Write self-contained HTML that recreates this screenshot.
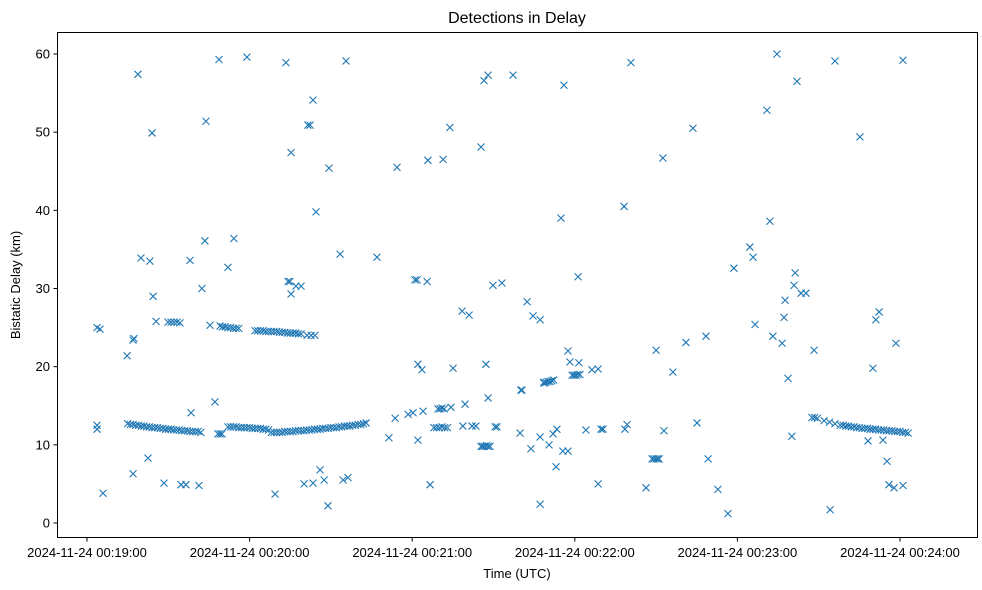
<!DOCTYPE html>
<html><head><meta charset="utf-8"><title>Detections in Delay</title>
<style>
html,body{margin:0;padding:0;background:#fff;}
svg{display:block;font-family:"Liberation Sans","DejaVu Sans",sans-serif;}
</style></head>
<body>
<svg id="chart" width="982" height="590" viewBox="0 0 982 590">
  <rect x="0" y="0" width="982" height="590" fill="#fff"/>
  <text x="517" y="23" text-anchor="middle" font-size="16">Detections in Delay</text>
  <g id="marks"></g>
  <g id="xticks"></g>
  <g id="yticks"></g>
  <rect x="57.5" y="32.5" width="920" height="505" fill="none" stroke="#000" stroke-width="1"/>
  <text x="517" y="578" text-anchor="middle" font-size="13">Time (UTC)</text>
  <text transform="translate(20,285) rotate(-90)" text-anchor="middle" font-size="13">Bistatic Delay (km)</text>
</svg>
<script>
// seconds after 2024-11-24 00:19:00
const scatterTimes = [3.7,3.7,3.7,4.8,5.9,14.8,17.0,17.3,17.0,18.8,19.9,22.5,23.2,24.0,24.4,25.5,28.4,34.7,36.5,38.0,38.4,41.3,42.4,43.5,43.9,45.4,47.2,48.7,52.0,54.2,59.0,69.4,73.4,74.2,74.9,75.3,75.3,77.1,79.0,80.1,81.5,82.3,83.4,84.5,83.4,86.0,87.5,88.9,89.3,93.4,94.5,95.6,96.3,107.0,111.4,113.7,114.4,118.5,120.3,121.0,121.8,122.1,123.6,122.1,124.0,125.5,125.8,126.6,131.4,133.9,134.3,135.1,138.4,139.5,141.0,138.7,142.1,143.5,145.4,146.5,148.0,147.2,148.0,149.8,150.6,151.3,153.1,157.2,159.8,160.1,160.5,162.4,163.8,164.6,167.2,167.2,167.2,168.6,170.5,172.0,173.1,173.4,174.9,175.6,177.5,176.0,177.5,178.2,181.2,181.5,184.1,186.3,188.6,188.6,189.7,190.4,198.2,198.5,199.3,200.7,206.3,210.0,212.5,212.9,216.2,221.0,223.6,225.1,228.4,229.2,232.8,236.5,238.7,244.6,245.8,246.5,250.9,252.0,253.1,254.6,256.5,257.2,257.6,258.7,260.1,260.9,261.3,262.0,263.5,265.3,268.3,274.2,276.0,285.2,288.2,290.0,291.1,292.3,293.7,295.2,295.9,297.8,298.5,301.1,301.1];
const scatterDelays = [12.5,12.0,25.0,24.8,3.8,21.4,23.4,23.6,6.3,57.4,33.9,8.3,33.5,49.9,29.0,25.8,5.1,4.9,4.9,33.6,14.1,4.8,30.0,36.1,51.4,25.3,15.5,59.3,32.7,36.4,59.6,3.7,58.9,30.9,30.9,47.4,29.3,30.3,30.3,5.0,50.9,50.9,54.1,39.8,5.1,6.8,5.5,2.2,45.4,34.4,5.5,59.1,5.8,34.0,10.9,13.4,45.5,13.9,14.1,31.1,31.1,20.3,19.6,10.6,14.3,30.9,46.4,4.9,46.5,50.6,14.8,19.8,27.1,15.2,26.6,12.4,12.4,12.4,48.1,56.6,57.3,20.3,16.0,30.4,12.3,12.3,30.7,57.3,11.5,17.0,17.0,28.3,9.5,26.5,26.0,2.4,11.0,17.9,10.0,11.4,7.2,12.0,39.0,9.2,9.2,56.0,22.0,20.6,31.5,20.5,11.9,19.6,19.7,5.0,12.0,12.0,40.5,12.0,12.6,58.9,4.5,22.1,46.7,11.8,19.3,23.1,50.5,12.8,23.9,8.2,4.3,1.2,32.6,35.3,34.0,25.4,52.8,38.6,23.9,60.0,23.0,26.3,28.5,18.5,11.1,30.4,32.0,56.5,29.4,29.4,22.1,1.7,59.1,49.4,10.5,19.8,26.0,27.0,10.6,7.9,4.9,4.5,23.0,4.8,59.2];
const bandTimes = [15,16,17,18,19,20,21,22,23,24,25,26,27,28,29,30,31,32,33,34,35,36,37,38,39,40,41,42,
  29.9,31.0,32.1,33.2,34.3,
  48.3,49.1,49.8,
  49.1,50,51,52,53,54,55,56,
  52,53,54,55,56,57,58,59,60,61,62,63,64,65,66,67,
  62,63,64,65,66,67,68,69,70,71,72,73,74,75,76,77,78,79,81.2,82.7,84.1,
  68,69,70,71,72,73,74,75,76,77,78,79,80,81,82,83,84,85,86,87,88,89,90,91,92,93,94,95,96,97,98,99,100,101,102,103,
  128.0,129.0,130.0,131.0,132.0,133.0,129.5,130.3,131.0,131.8,
  145.4,146.0,146.7,147.4,148.0,148.7,
  168.6,169.4,170.1,170.8,171.5,172.2,
  179.0,179.7,180.4,181.1,181.9,
  208.5,209.2,210.0,210.7,211.1,
  267.5,268.5,269.5,272,274,276,278,279,280,281,282,283,284,285,286,287,288,289,290,291,292,293,294,295,296,297,298,299,300,301,302,303];
const bandDelays = [12.7,12.6,12.6,12.5,12.5,12.4,12.4,12.3,12.3,12.2,12.2,12.2,12.1,12.1,12.0,12.0,12.0,11.9,11.9,11.9,11.8,11.8,11.8,11.7,11.7,11.7,11.7,11.6,
  25.7,25.7,25.7,25.7,25.6,
  11.4,11.4,11.4,
  25.2,25.1,25.1,25.0,25.0,24.9,24.9,24.9,
  12.3,12.3,12.3,12.3,12.2,12.2,12.2,12.2,12.2,12.1,12.1,12.1,12.1,12.0,12.0,11.9,
  24.6,24.6,24.6,24.6,24.5,24.5,24.5,24.5,24.5,24.4,24.4,24.4,24.3,24.3,24.3,24.3,24.2,24.2,24.0,24.0,24.0,
  11.6,11.6,11.6,11.6,11.6,11.7,11.7,11.7,11.7,11.8,11.8,11.8,11.8,11.9,11.9,11.9,12.0,12.0,12.0,12.1,12.1,12.1,12.2,12.2,12.2,12.3,12.3,12.4,12.4,12.4,12.5,12.5,12.6,12.6,12.7,12.8,
  12.2,12.2,12.2,12.3,12.2,12.2,14.6,14.6,14.7,14.6,
  9.8,9.8,9.8,9.9,9.8,9.8,
  18.0,18.0,18.1,18.1,18.2,18.3,
  18.9,18.9,18.9,19.0,19.0,
  8.2,8.2,8.2,8.2,8.2,
  13.5,13.5,13.4,13.1,12.9,12.7,12.5,12.5,12.4,12.4,12.3,12.3,12.2,12.2,12.1,12.1,12.1,12.0,12.0,12.0,11.9,11.9,11.9,11.8,11.8,11.8,11.7,11.7,11.7,11.6,11.6,11.5];
const xTickSeconds = [0,60,120,180,240,300];
const xTickLabels = ["2024-11-24 00:19:00","2024-11-24 00:20:00","2024-11-24 00:21:00","2024-11-24 00:22:00","2024-11-24 00:23:00","2024-11-24 00:24:00"];
const yTickValues = [0,10,20,30,40,50,60];

const NS = "http://www.w3.org/2000/svg";
function xScale(s){ return 87 + s * (900 - 87) / 300; }
function yScale(v){ return 523 - v * (523 - 54) / 60; }

const marks = document.getElementById('marks');
function drawX(t, v, i){
  const cx = xScale(t), cy = yScale(v), r = 3.5;
  const p = document.createElementNS(NS, 'path');
  p.setAttribute('d', `M${cx-r},${cy-r}L${cx+r},${cy+r}M${cx-r},${cy+r}L${cx+r},${cy-r}`);
  p.setAttribute('stroke', '#1f77b4');
  p.setAttribute('stroke-width', '1.1');
  p.setAttribute('fill', 'none');
  
  
  marks.appendChild(p);
}
scatterTimes.forEach((t, i) => drawX(t, scatterDelays[i], i));
bandTimes.forEach((t, i) => drawX(t, bandDelays[i], i));

const xg = document.getElementById('xticks');
xTickSeconds.forEach((s, i) => {
  const x = xScale(s);
  const l = document.createElementNS(NS, 'line');
  l.setAttribute('x1', x); l.setAttribute('x2', x);
  l.setAttribute('y1', 537.5); l.setAttribute('y2', 541.5);
  l.setAttribute('stroke', '#000');
  
  
  xg.appendChild(l);
  const tx = document.createElementNS(NS, 'text');
  tx.setAttribute('x', x); tx.setAttribute('y', 557);
  tx.setAttribute('text-anchor', 'middle');
  tx.setAttribute('font-size', '13');
  
  
  tx.textContent = xTickLabels[i];
  xg.appendChild(tx);
});

const yg = document.getElementById('yticks');
yTickValues.forEach(v => {
  const y = yScale(v);
  const l = document.createElementNS(NS, 'line');
  l.setAttribute('x1', 53.5); l.setAttribute('x2', 57.5);
  l.setAttribute('y1', y); l.setAttribute('y2', y);
  l.setAttribute('stroke', '#000');
  
  
  yg.appendChild(l);
  const tx = document.createElementNS(NS, 'text');
  tx.setAttribute('x', 50); tx.setAttribute('y', y + 4.5);
  tx.setAttribute('text-anchor', 'end');
  tx.setAttribute('font-size', '13');
  
  
  tx.textContent = v;
  yg.appendChild(tx);
});
</script>
</body></html>
